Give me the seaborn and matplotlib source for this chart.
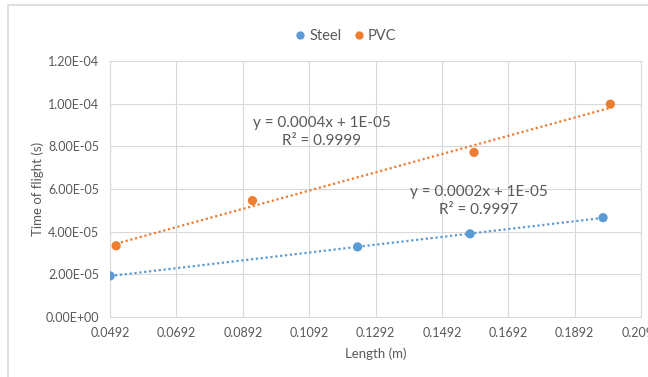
import pandas as pd
import matplotlib.pyplot as plt
import matplotlib.patches as mpatches
import seaborn as sns

# data
steel_length = [0.0492, 0.1238, 0.1577, 0.1978]
steel_time = [1.93e-05, 3.29e-05, 3.90e-05, 4.66e-05]
pvc_length = [0.0510, 0.0921, 0.1589, 0.2000]
pvc_time = [3.34e-05, 5.46e-05, 7.72e-05, 9.98e-05]

x_ticks = [0.0492, 0.0692, 0.0892, 0.1092, 0.1292, 0.1492, 0.1692, 0.1892, 0.2092]
x_labels = ['0.0492', '0.0692', '0.0892', '0.1092', '0.1292', '0.1492', '0.1692', '0.1892', '0.2092']
y_ticks = [0, 2e-05, 4e-05, 6e-05, 8e-05, 1e-04, 1.2e-04]
y_labels = ['0.00E+00', '2.00E-05', '4.00E-05', '6.00E-05', '8.00E-05', '1.00E-04', '1.20E-04']

steel_eq = 'y = 0.0002x + 1E-05\nR² = 0.9997'
pvc_eq = 'y = 0.0004x + 1E-05\nR² = 0.9999'

df = pd.DataFrame({
    'Length': steel_length + pvc_length,
    'Time': steel_time + pvc_time,
    'Material': ['Steel'] * len(steel_length) + ['PVC'] * len(pvc_length),
})

sns.set_style('white')
plt.rcParams['font.family'] = ['Lato', 'DejaVu Sans']
text_col = '#595959'
grid_col = '#D9D9D9'
colors = {'Steel': '#5B9BD5', 'PVC': '#ED7D31'}

fig = plt.figure(figsize=(6.48, 3.77), dpi=100)
ax = fig.add_axes([0.170, 0.159, 0.819, 0.679])

# dotted linear trendlines
for name in ['Steel', 'PVC']:
    sub = df[df['Material'] == name]
    sns.regplot(data=sub, x='Length', y='Time', ax=ax, scatter=False, ci=None,
                line_kws={'color': colors[name], 'linestyle': (0, (1, 1.2)), 'linewidth': 1.6})

sns.scatterplot(data=df, x='Length', y='Time', hue='Material', palette=colors, ax=ax,
                s=44, edgecolor='none', zorder=3)

ax.set_xlim(x_ticks[0], x_ticks[-1])
ax.set_ylim(y_ticks[0], y_ticks[-1])
ax.set_xticks(x_ticks)
ax.set_xticklabels(x_labels)
ax.set_yticks(y_ticks)
ax.set_yticklabels(y_labels)
ax.grid(True, color=grid_col, linewidth=0.8)
ax.set_axisbelow(True)
for sp in ax.spines.values():
    sp.set_color(grid_col)
    sp.set_linewidth(0.8)
ax.tick_params(axis='y', length=0, labelsize=9, colors=text_col, pad=8)
ax.tick_params(axis='x', length=0, labelsize=9, colors=text_col, pad=7)

ax.set_xlabel('Length (m)', fontsize=9.5, color=text_col, labelpad=6)
ax.set_ylabel('Time of flight (s)', fontsize=9.5, color=text_col, labelpad=1)

ax.text(0.1129, 8.66e-05, pvc_eq, ha='center', va='center', fontsize=11,
        color=text_col, linespacing=1.35)
ax.text(0.1604, 5.46e-05, steel_eq, ha='center', va='center', fontsize=11,
        color=text_col, linespacing=1.35)

leg = ax.legend(loc='center', bbox_to_anchor=(0.444, 1.098), ncol=2, frameon=False,
                fontsize=10.5, handlelength=0.7, handletextpad=0.3, columnspacing=0.8,
                markerscale=0.9)
for t in leg.get_texts():
    t.set_color(text_col)

# outer chart border
fig.patches.append(mpatches.Rectangle((8 / 648, -0.05), 1.1, 1 - 5 / 377 + 0.05,
                                      transform=fig.transFigure, fill=False,
                                      edgecolor=grid_col, linewidth=1.2))

fig.savefig('out.png', dpi=100)
